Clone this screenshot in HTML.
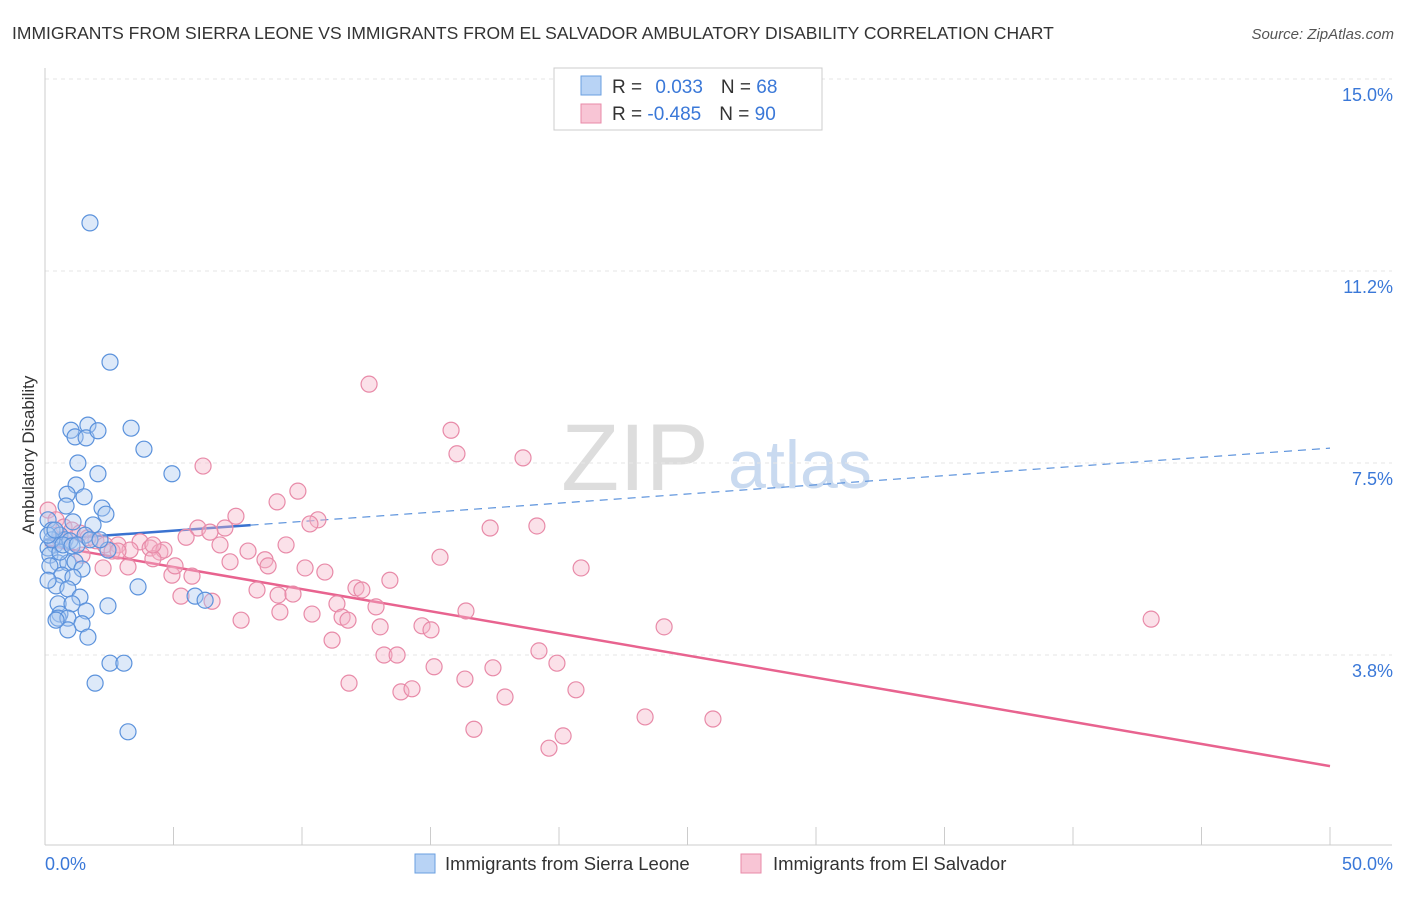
<!DOCTYPE html>
<html><head><meta charset="utf-8"><style>
body{margin:0;background:#fff;font-family:"Liberation Sans",sans-serif}
svg text{font-family:"Liberation Sans",sans-serif}
</style></head><body>
<svg id="chart" width="1406" height="892" xmlns="http://www.w3.org/2000/svg">
<text x="12" y="39" font-size="17.5" fill="#333">IMMIGRANTS FROM SIERRA LEONE VS IMMIGRANTS FROM EL SALVADOR AMBULATORY DISABILITY CORRELATION CHART</text>
<text x="1394" y="39" font-size="15" fill="#555" text-anchor="end" font-style="italic">Source: ZipAtlas.com</text>
<g>
<text x="635" y="490" font-size="95" fill="#ddd" text-anchor="middle" font-family="Liberation Serif">ZIP</text>
<text x="800" y="488" font-size="68" fill="#c9daf0" text-anchor="middle">atlas</text>
</g>
<g id="grid"></g>
<g id="axes"></g>
<text transform="translate(34,455) rotate(-90)" font-size="17" fill="#333" text-anchor="middle">Ambulatory Disability</text>
<g id="trends"></g>
<g id="pts"></g>
<g>
<rect x="554" y="68" width="268" height="62" fill="#fff" stroke="#ccc"/>
<rect x="581" y="76" width="20" height="19" fill="#b8d3f5" stroke="#6a9fe0"/>
<rect x="581" y="104" width="20" height="19" fill="#f8c5d5" stroke="#e88aa8"/>
<text x="612" y="93" font-size="19" fill="#333">R = <tspan fill="#3a78d8" dx="8">0.033</tspan><tspan dx="18" fill="#333">N = </tspan><tspan fill="#3a78d8">68</tspan></text>
<text x="612" y="120" font-size="19" fill="#333">R = <tspan fill="#3a78d8">-0.485</tspan><tspan dx="18" fill="#333">N = </tspan><tspan fill="#3a78d8">90</tspan></text>
</g>
<g>
<rect x="415" y="854" width="20" height="19" fill="#b8d3f5" stroke="#6a9fe0"/>
<text x="445" y="870" font-size="18.5" fill="#333">Immigrants from Sierra Leone</text>
<rect x="741" y="854" width="20" height="19" fill="#f8c5d5" stroke="#e88aa8"/>
<text x="773" y="870" font-size="18.5" fill="#333">Immigrants from El Salvador</text>
</g>
</svg>
<script>
const yTicks=[3.75,7.5,11.25,15];
const yTickLabels=["3.8%","7.5%","11.2%","15.0%"];
const xTickVals=[0,5,10,15,20,25,30,35,40,45,50];
const blueX=[1.75,2.53,1.01,1.67,1.17,1.60,2.06,3.35,3.85,1.28,2.06,4.94,1.21,0.86,1.52,0.82,2.22,2.37,1.87,1.09,0.12,0.27,0.58,0.78,0.39,0.97,0.12,0.19,0.51,0.89,1.17,1.44,0.19,0.66,1.09,0.43,0.89,3.62,1.36,2.45,0.51,1.05,1.60,0.58,0.51,0.89,1.44,0.89,1.67,2.53,3.07,1.95,3.23,5.84,6.23,2.45,0.58,0.27,0.12,1.56,0.39,0.70,1.05,0.12,0.43,1.25,1.75,2.14];
const blueY=[12.19,9.47,8.14,8.24,8.01,7.99,8.13,8.18,7.77,7.50,7.29,7.29,7.07,6.89,6.84,6.66,6.62,6.50,6.29,6.35,6.39,6.19,6.09,6.00,5.90,5.98,5.84,5.70,5.55,5.55,5.57,5.43,5.49,5.31,5.27,5.10,5.04,5.08,4.88,4.71,4.75,4.75,4.61,4.55,4.47,4.47,4.36,4.24,4.10,3.59,3.59,3.20,2.25,4.90,4.82,5.80,5.76,6.00,6.09,6.09,6.19,5.90,5.88,5.21,4.43,5.90,6.00,6.00];
const pinkX=[12.61,15.80,16.03,18.60,6.15,9.84,9.03,7.43,10.62,10.31,17.32,19.14,7.00,5.95,5.49,6.42,0.12,0.43,0.74,1.05,1.36,1.67,1.98,2.33,2.84,2.61,3.70,4.09,4.47,4.63,3.31,4.20,4.94,5.72,5.06,6.81,7.90,8.56,8.68,9.38,7.20,10.12,10.89,15.37,20.86,13.42,12.10,12.33,8.25,9.07,9.65,5.29,6.50,7.63,9.14,10.39,11.36,11.56,11.79,12.88,13.04,14.67,15.02,16.38,11.17,13.19,13.70,15.14,17.43,19.22,19.92,16.34,11.83,13.85,14.28,17.90,20.66,16.69,20.16,19.61,23.35,25.99,24.09,43.04,2.26,3.23,0.58,1.44,2.84,4.20];
const pinkY=[9.04,8.14,7.68,7.60,7.44,6.95,6.74,6.46,6.39,6.31,6.23,6.27,6.23,6.23,6.05,6.15,6.58,6.39,6.25,6.19,6.13,6.04,5.98,5.90,5.90,5.78,5.96,5.84,5.76,5.80,5.80,5.63,5.31,5.29,5.49,5.90,5.78,5.61,5.49,5.90,5.57,5.45,5.37,5.66,5.45,5.21,5.06,5.02,5.02,4.92,4.94,4.90,4.80,4.43,4.59,4.55,4.75,4.49,4.43,4.69,4.30,4.32,4.24,4.61,4.04,3.75,3.75,3.52,3.50,3.83,3.59,3.28,3.20,3.03,3.09,2.93,3.07,2.30,2.17,1.93,2.54,2.50,4.30,4.45,5.45,5.47,6.00,5.70,5.78,5.90];
const blueTrend=[6.0,0.0358];
const pinkTrend=[5.90,-0.0864];
const NS="http://www.w3.org/2000/svg";
const sx=v=>45+v*25.7, sy=v=>847-v*51.2;
function mk(tag,attrs,parent){const e=document.createElementNS(NS,tag);for(const k in attrs)e.setAttribute(k,attrs[k]);document.getElementById(parent).appendChild(e);return e;}
yTicks.forEach((t,i)=>{
 const g=mk('line',{x1:45,x2:1392,y1:sy(t),y2:sy(t),stroke:'#e6e6e6','stroke-dasharray':'4,4'},'grid');
 
 
 const tx=mk('text',{x:1393,y:sy(t)+22,'font-size':18,fill:'#3a78d8','text-anchor':'end'},'grid');
 tx.textContent=yTickLabels[i];
 
 
});
mk('line',{x1:45,x2:45,y1:68,y2:845,stroke:'#ccc'},'axes');
mk('line',{x1:45,x2:1392,y1:845,y2:845,stroke:'#ccc'},'axes');
xTickVals.forEach(v=>{
 const t=mk('line',{x1:sx(v),x2:sx(v),y1:827,y2:845,stroke:'#ccc'},'axes');
 
 
});
const xl0=mk('text',{x:45,y:870,'font-size':18,fill:'#3a78d8'},'axes');xl0.textContent='0.0%';


const xl1=mk('text',{x:1393,y:870,'font-size':18,fill:'#3a78d8','text-anchor':'end'},'axes');xl1.textContent='50.0%';


function pts(X,Y,fill,stroke,name){X.forEach((x,i)=>{
 const c=mk('circle',{cx:sx(x),cy:sy(Y[i]),r:8,fill:fill,'fill-opacity':0.4,stroke:stroke,'stroke-width':1.2},'pts');
 
 
});}
pts(pinkX,pinkY,'#f5b3c8','#e88aa8','point-el-salvador');
pts(blueX,blueY,'#a9c8f0','#5b92dc','point-sierra-leone');
const b1=mk('line',{x1:sx(0),y1:sy(blueTrend[0]),x2:sx(8),y2:sy(blueTrend[0]+blueTrend[1]*8),stroke:'#3a72d0','stroke-width':2.5},'trends');


const b2=mk('line',{x1:sx(8),y1:sy(blueTrend[0]+blueTrend[1]*8),x2:sx(50),y2:sy(blueTrend[0]+blueTrend[1]*50),stroke:'#5b92dc','stroke-width':1.2,'stroke-dasharray':'8,6'},'trends');


const p1=mk('line',{x1:sx(0),y1:sy(pinkTrend[0]),x2:sx(50),y2:sy(pinkTrend[0]+pinkTrend[1]*50),stroke:'#e8638f','stroke-width':2.5},'trends');


</script>
</body></html>
